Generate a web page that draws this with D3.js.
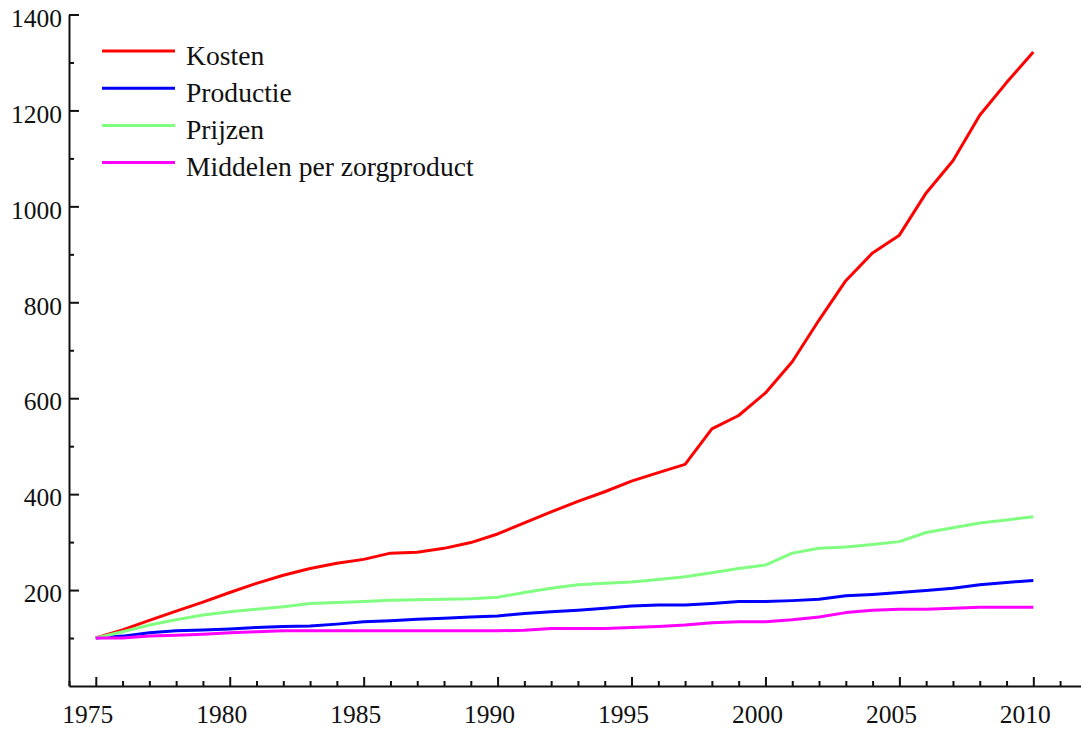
<!DOCTYPE html>
<html>
<head>
<meta charset="utf-8">
<script src="https://cdn.jsdelivr.net/npm/d3@7"></script>
<style>
  html, body { margin: 0; padding: 0; background: #fff; }
  svg { display: block; }
  text { font-family: "Liberation Serif", "Times New Roman", serif; fill: #111; }
</style>
</head>
<body>
<svg id="chart" width="1081" height="729"></svg>
<script>
const years = d3.range(1975, 2011);
const kosten = [100,117,137,156,175,195,214,231,245,256,264,277,279,287,299,317,340,363,385,405,427,445,462,536,564,611,676,763,845,903,940,1028,1095,1190,1258,1322];
const productie = [100,104,111,115,117,119,122,124,125,129,134,136,139,141,144,146,151,155,158,162,167,169,169,172,176,176,178,181,188,191,195,199,204,211,216,220];
const prijzen = [100,113,127,138,148,155,160,165,172,174,176,179,180,181,182,185,195,204,211,214,217,222,228,236,245,252,277,287,290,295,301,320,330,340,346,353];
const middelen = [100,100,104,106,108,111,113,115,115,115,115,115,115,115,115,115,116,120,120,120,122,124,127,132,134,134,138,144,153,158,160,160,162,164,164,164];
const seriesNames = ["Kosten", "Productie", "Prijzen", "Middelen per zorgproduct"];
const seriesColors = ["#ff0000", "#0000ff", "#80ff80", "#ff00ff"];
const seriesValues = [kosten, productie, prijzen, middelen];
const yMajorTicks = [200, 400, 600, 800, 1000, 1200, 1400];
const yMinorTicks = [100, 300, 500, 700, 900, 1100, 1300];
const xMajorTicks = [1975, 1980, 1985, 1990, 1995, 2000, 2005, 2010];
const xMinorTicks = d3.range(1974, 2012).filter(v => v % 5 !== 0);

const svg = d3.select("#chart");
const x = d3.scaleLinear().domain([1974, 2011.78]).range([69, 1081]);
const y = d3.scaleLinear().domain([0, 1400]).range([686, 14.5]);

// Series lines
const line = d3.line().x(d => x(d[0])).y(d => y(d[1]));
seriesValues.forEach((vals, i) => {
  svg.append("path")
    .datum(years.map((yr, j) => [yr, vals[j]]))
    .attr("fill", "none")
    .attr("stroke", seriesColors[i])
    .attr("stroke-width", 3)
    .attr("stroke-linejoin", "round")
    .attr("d", line);
});

// Y axis
const yAxisG = svg.append("g").attr("transform", `translate(${x(1974)},0)`);
yAxisG.call(d3.axisLeft(y).tickValues(yMajorTicks).tickSize(-10).tickSizeOuter(0).tickPadding(7).tickFormat(d3.format("d")));
yAxisG.append("g").call(d3.axisLeft(y).tickValues(yMinorTicks).tickSize(-5).tickSizeOuter(0).tickFormat(""));
yAxisG.selectAll("text").attr("dy", "0.46em").style("font-size", "25.5px");

// X axis
const xAxisG = svg.append("g").attr("transform", `translate(0,${y(0)})`);
xAxisG.call(d3.axisBottom(x).tickValues(xMajorTicks).tickSize(-9).tickSizeOuter(0).tickPadding(19).tickFormat(d3.format("d")));
xAxisG.append("g").call(d3.axisBottom(x).tickValues(xMinorTicks).tickSize(-5).tickSizeOuter(0).tickFormat(""));
xAxisG.selectAll("text").attr("dx", "-8.5").style("font-size", "25.5px");

svg.selectAll(".domain").attr("stroke", "#111").attr("stroke-width", 2);
svg.selectAll(".tick line").attr("stroke", "#111").attr("stroke-width", 2);
svg.selectAll("g g .domain").remove();

// Legend
const legend = svg.append("g");
seriesNames.forEach((name, i) => {
  const ly = 51 + i * 37.2;
  legend.append("line")
    .attr("x1", 102).attr("x2", 175)
    .attr("y1", ly).attr("y2", ly)
    .attr("stroke", seriesColors[i]).attr("stroke-width", 3);
  legend.append("text")
    .attr("x", 186).attr("y", ly + 13.5)
    .style("font-size", "27.6px")
    .text(name);
});
</script>
</body>
</html>
